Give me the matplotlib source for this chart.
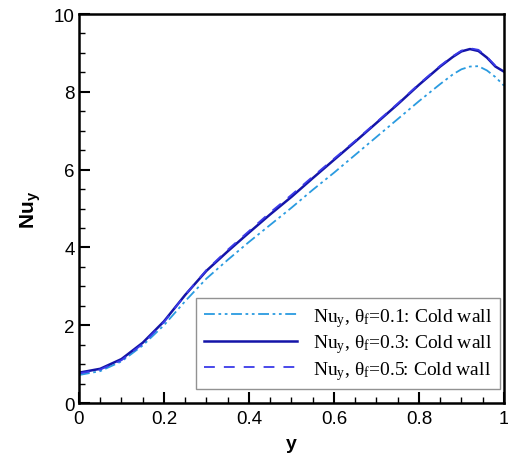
import matplotlib
matplotlib.use("Agg")
import matplotlib.pyplot as plt
from matplotlib.ticker import MultipleLocator

# data
y = [0, 0.05, 0.1, 0.15, 0.2, 0.25, 0.3, 0.35, 0.4, 0.45, 0.5, 0.55, 0.6,
     0.65, 0.7, 0.75, 0.8, 0.85, 0.88, 0.9, 0.92, 0.94, 0.96, 0.98, 1.0]
nu_01 = [0.72, 0.82, 1.07, 1.48, 2.0, 2.62, 3.2, 3.68, 4.14, 4.58, 5.02, 5.48,
         5.92, 6.38, 6.84, 7.3, 7.76, 8.2, 8.45, 8.58, 8.65, 8.66, 8.55, 8.38, 8.16]
nu_03 = [0.78, 0.88, 1.13, 1.55, 2.1, 2.78, 3.4, 3.9, 4.38, 4.85, 5.3, 5.78,
         6.25, 6.72, 7.2, 7.68, 8.18, 8.65, 8.9, 9.04, 9.1, 9.05, 8.88, 8.65, 8.52]
nu_05 = [0.76, 0.86, 1.1, 1.52, 2.08, 2.78, 3.42, 3.94, 4.42, 4.9, 5.35, 5.82,
         6.28, 6.74, 7.22, 7.7, 8.2, 8.67, 8.92, 9.06, 9.12, 9.08, 8.9, 8.67, 8.55]
labels = [r"Nu$_\mathrm{y}$, θ$_\mathrm{f}$=0.1: Cold wall",
          r"Nu$_\mathrm{y}$, θ$_\mathrm{f}$=0.3: Cold wall",
          r"Nu$_\mathrm{y}$, θ$_\mathrm{f}$=0.5: Cold wall"]
xticks = [0, 0.2, 0.4, 0.6, 0.8, 1.0]
xtick_labels = ["0", "0.2", "0.4", "0.6", "0.8", "1"]
yticks = [0, 2, 4, 6, 8, 10]
ytick_labels = ["0", "2", "4", "6", "8", "10"]

plt.rcParams["font.family"] = ["Liberation Sans", "DejaVu Sans"]
plt.rcParams["mathtext.fontset"] = "custom"
plt.rcParams["mathtext.rm"] = "Liberation Serif"
plt.rcParams["mathtext.it"] = "Liberation Serif:italic"
plt.rcParams["mathtext.bf"] = "Liberation Sans:bold"

fig = plt.figure(figsize=(5.08, 4.56), dpi=100)
ax = fig.add_axes([0.1555, 0.114, 0.8365, 0.853])

ax.plot(y, nu_01, color="#2a9be0", lw=1.3, dashes=(6, 2, 1.5, 2, 1.5, 2), label=labels[0])
ax.plot(y, nu_03, color="#1414a8", lw=1.8, label=labels[1])
ax.plot(y, nu_05, color="#3a3ae8", lw=1.3, dashes=(6, 5), label=labels[2])

ax.set_xlim(0, 1)
ax.set_ylim(0, 10)
ax.set_xticks(xticks)
ax.set_xticklabels(xtick_labels)
ax.set_yticks(yticks)
ax.set_yticklabels(ytick_labels)
ax.xaxis.set_minor_locator(MultipleLocator(0.05))
ax.yaxis.set_minor_locator(MultipleLocator(0.5))
ax.tick_params(which="both", direction="in", labelsize=13.5, width=1.5)
ax.tick_params(which="major", length=8)
ax.tick_params(which="minor", length=4, width=1)
ax.tick_params(axis="x", pad=5)
ax.tick_params(axis="y", pad=3)
for s in ax.spines.values():
    s.set_linewidth(1.8)

ax.set_xlabel("y", fontsize=14, fontweight="bold", labelpad=6)
ax.set_ylabel(r"Nu$_\mathbf{y}$", fontsize=15, fontweight="bold", labelpad=8)

leg = ax.legend(loc="lower right", bbox_to_anchor=(0.99, 0.035), frameon=True,
                fancybox=False, edgecolor="#777777", handlelength=4.8,
                prop={"family": "Liberation Serif", "size": 14},
                borderpad=0.4, labelspacing=0.18, handletextpad=0.8,
                borderaxespad=0.0)
leg.get_frame().set_linewidth(1.0)

fig.savefig("out.png", dpi=100)
